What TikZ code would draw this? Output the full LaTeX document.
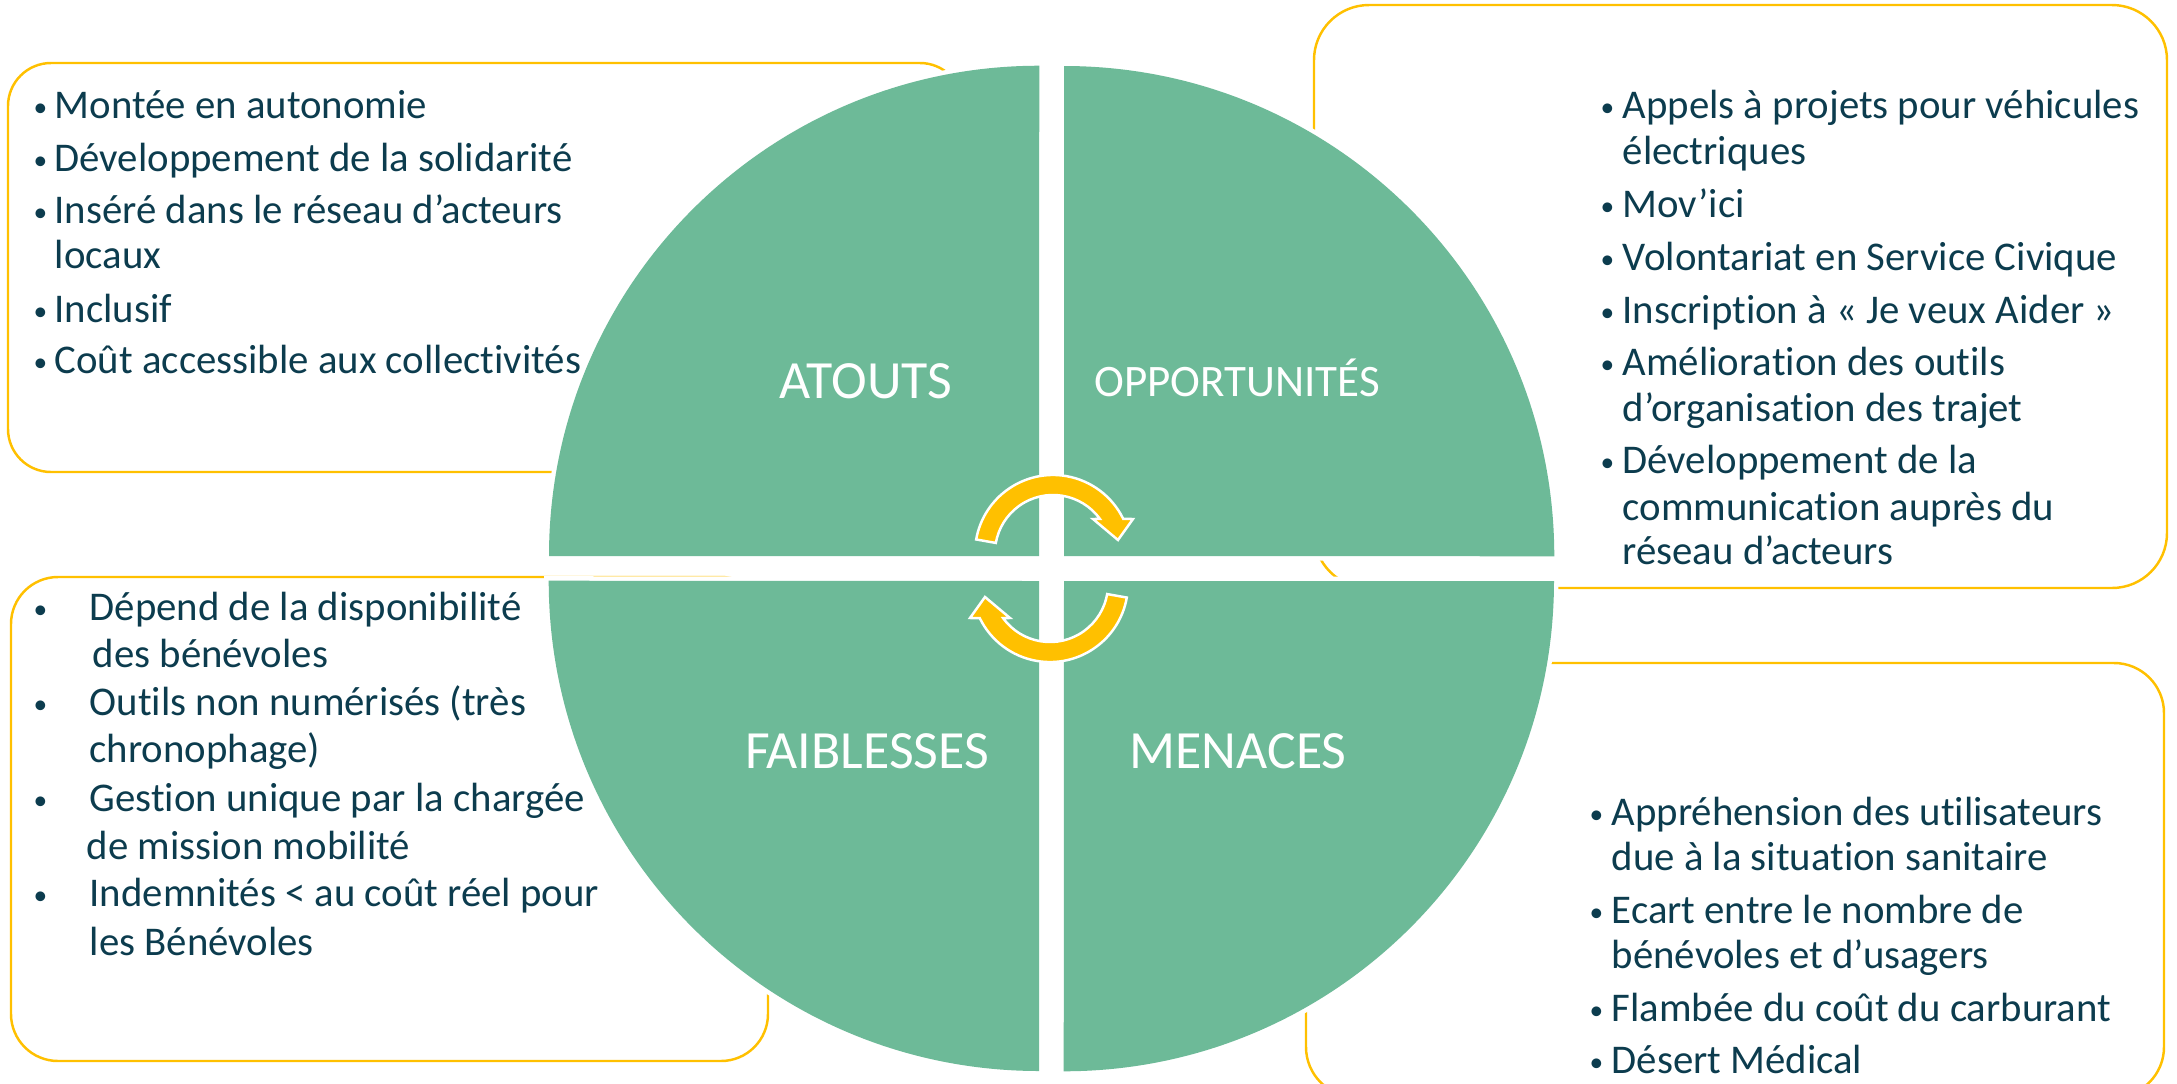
\documentclass[tikz,border=0pt]{standalone}
\usepackage{fontspec}
\setmainfont{Carlito}[Ligatures={NoCommon,NoContextual}]
\definecolor{segfill}{HTML}{6DBA98}
\definecolor{ink}{HTML}{0C3C4E}
\definecolor{gold}{HTML}{FFC000}
\tikzset{
  box/.style={draw=gold, line width=0.7pt},
  quad/.style={fill=segfill, preaction={draw=white, line width=0.09cm}},
  turn/.style={fill=gold, draw=white, line width=0.7pt},
  item/.style={anchor=base west, inner sep=0pt, text=ink, font=\fontsize{11.6}{14}\selectfont},
  dot/.style={item, font=\fontsize{7.8}{9}\selectfont},
  quadlabel/.style={anchor=base, inner sep=0pt, text=white, font=\fontsize{15.3}{18}\selectfont}
}

\begin{document}
\begin{tikzpicture}[x=0.01cm, y=0.01cm, yscale=-1]
\useasboundingbox (0,0) rectangle (2177,1084);

% boxes behind the circle
\draw[box, rounded corners=0.43cm] (8,63) rectangle (963,472);
\draw[box, rounded corners=0.55cm] (1314,5) rectangle (2167,588);
\draw[box, rounded corners=0.47cm] (11,577) rectangle (768,1061);
\draw[box, rounded corners=0.5cm] (1306,663) rectangle (2164,1097);

% atouts
\foreach \x/\y/\t [count=\i] in {54/118/Montée en autonomie,
    54/171/Développement de la solidarité,
    54/223/Inséré dans le réseau d’acteurs,
    54/268/locaux,
    54/322/Inclusif,
    54/373/Coût accessible aux collectivités}
  \node[item] (atout\i) at (\x,\y) {\t};
\foreach \y [count=\i] in {118,171,223,322,373}
  \node[dot] (atoutdot\i) at (33,\y-2) {\textbullet};

% opportunites
\foreach \x/\y/\t [count=\i] in {1622/118/Appels à projets pour véhicules,
    1622/164/électriques,
    1622/217/Mov’ici,
    1622/270/Volontariat en Service Civique,
    1622/323/Inscription à « Je veux Aider »,
    1622/375/Amélioration des outils,
    1622/421/d’organisation des trajet,
    1622/473/Développement de la,
    1622/520/communication auprès du,
    1622/564/réseau d’acteurs}
  \node[item] (opp\i) at (\x,\y) {\t};
\foreach \y [count=\i] in {118,217,270,323,375,473}
  \node[dot] (oppdot\i) at (1600,\y-2) {\textbullet};

% faiblesses
\foreach \x/\y/\t [count=\i] in {89/620/Dépend de la disponibilité,
    92/667/des bénévoles,
    89/715/Outils non numérisés (très,
    89/762/chronophage),
    89/811/Gestion unique par la chargée,
    86/859/de mission mobilité,
    89/906/Indemnités < au coût réel pour,
    89/955/les Bénévoles}
  \node[item] (faib\i) at (\x,\y) {\t};
\foreach \y [count=\i] in {620,715,811,906}
  \node[dot] (faibdot\i) at (33,\y-2) {\textbullet};

% menaces
\foreach \x/\y/\t [count=\i] in {1611/825/Appréhension des utilisateurs,
    1611/870/due à la situation sanitaire,
    1611/923/Ecart entre le nombre de,
    1611/968/bénévoles et d’usagers,
    1611/1021/Flambée du coût du carburant,
    1611/1073/Désert Médical}
  \node[item] (men\i) at (\x,\y) {\t};
\foreach \y [count=\i] in {825,923,1021,1073}
  \node[dot] (mendot\i) at (1589,\y-2) {\textbullet};

% the four quarters
\path[quad] (1039,556) -- ++(-490,0) arc[start angle=180, end angle=270, radius=4.9cm] -- cycle;
\path[quad] (1064,556) -- ++(0,-490) arc[start angle=270, end angle=360, radius=4.9cm] -- cycle;
\path[quad] (1064,581) -- ++(490,0) arc[start angle=0, end angle=90, radius=4.9cm] -- cycle;
\path[quad] (1039,581) -- ++(0,490) arc[start angle=90, end angle=180, radius=4.9cm] -- cycle;

\node[quadlabel] (atouts) at (866,398) {ATOUTS};
\node[quadlabel, font=\fontsize{12.8}{15}\selectfont] (opport) at (1237,396) {OPPORTUNITÉS};
\node[quadlabel] (faibl) at (867,768) {FAIBLESSES};
\node[quadlabel] (menaces) at (1238,768) {MENACES};

% turning arrows
\begin{scope}[shift={(1053,553)}, yscale=-1]
\path[turn] (170:78) arc[start angle=170, end angle=26, radius=0.78cm]
  -- (80,34) -- (65,13) -- (40,34) -- (36:58)
  arc[start angle=36, end angle=170, radius=0.58cm] -- cycle;
\end{scope}
\begin{scope}[shift={(1050,584)}, xscale=-1]
\path[turn] (170:78) arc[start angle=170, end angle=26, radius=0.78cm]
  -- (80,34) -- (65,13) -- (40,34) -- (36:58)
  arc[start angle=36, end angle=170, radius=0.58cm] -- cycle;
\end{scope}
\end{tikzpicture}
\end{document}
